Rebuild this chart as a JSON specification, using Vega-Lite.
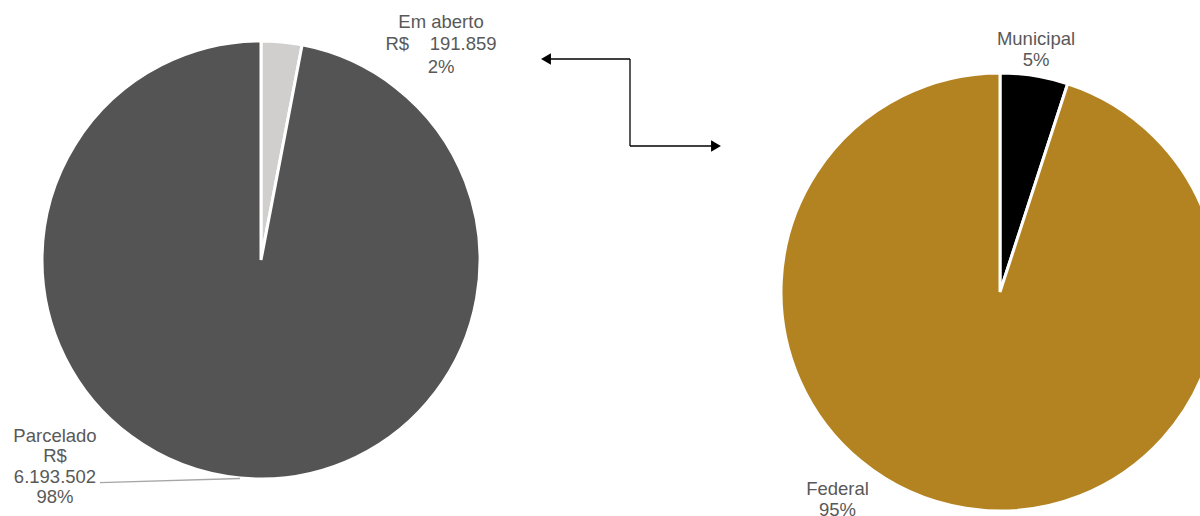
{
  "$schema": "https://vega.github.io/schema/vega-lite/v6.json",
  "width": 1200,
  "height": 516,
  "autosize": {"type": "none"},
  "padding": 0,
  "config": {"view": {"stroke": null}, "font": "Liberation Sans"},
  "data": {
    "values": [
      {"chart": "Parcelamento", "category": "Em aberto", "value": 191859, "label": ["Em aberto", "R$\u00a0\u00a0\u00a0\u00a0191.859", "2%"]},
      {"chart": "Parcelamento", "category": "Parcelado", "value": 6193502, "label": ["Parcelado", "R$", "6.193.502", "98%"]},
      {"chart": "Esfera", "category": "Municipal", "value": 5, "label": ["Municipal", "5%"]},
      {"chart": "Esfera", "category": "Federal", "value": 95, "label": ["Federal", "95%"]}
    ]
  },
  "transform": [
    {"stack": "value", "groupby": ["chart"], "sort": [{"field": "value", "order": "ascending"}], "offset": "normalize", "as": ["t0", "t1"]}
  ],
  "resolve": {"scale": {"x": "independent", "y": "independent"}},
  "layer": [
    {
      "mark": {"type": "arc", "radius": 219, "stroke": "white", "strokeWidth": 3},
      "encoding": {
        "x": {"field": "chart", "type": "nominal", "scale": {"type": "point", "padding": 0, "domain": ["Parcelamento", "Esfera"], "range": [261, 1000]}, "axis": null},
        "y": {"field": "chart", "type": "nominal", "scale": {"type": "point", "padding": 0, "domain": ["Parcelamento", "Esfera"], "range": [260, 292]}, "axis": null},
        "theta": {"field": "t0", "type": "quantitative", "scale": {"domain": [0, 1], "range": [0, 6.283185307]}},
        "theta2": {"field": "t1"},
        "color": {"field": "category", "type": "nominal", "scale": {"domain": ["Em aberto", "Parcelado", "Municipal", "Federal"], "range": ["#d0cfce", "#545454", "#000000", "#b38321"]}, "legend": null}
      }
    },
    {
      "transform": [{"filter": "datum.category === 'Em aberto'"}],
      "mark": {"type": "text", "fontSize": 18.5, "color": "#595959", "align": "center", "baseline": "alphabetic", "lineHeight": 22.7, "dx": 180, "dy": -232.5},
      "encoding": {
        "x": {"field": "chart", "type": "nominal", "scale": {"type": "point", "padding": 0, "domain": ["Parcelamento", "Esfera"], "range": [261, 1000]}, "axis": null},
        "y": {"field": "chart", "type": "nominal", "scale": {"type": "point", "padding": 0, "domain": ["Parcelamento", "Esfera"], "range": [260, 292]}, "axis": null},
        "text": {"field": "label"}
      }
    },
    {
      "transform": [{"filter": "datum.category === 'Parcelado'"}],
      "mark": {"type": "text", "fontSize": 18.5, "color": "#595959", "align": "center", "baseline": "alphabetic", "lineHeight": 20.5, "dx": -206, "dy": 181.7},
      "encoding": {
        "x": {"field": "chart", "type": "nominal", "scale": {"type": "point", "padding": 0, "domain": ["Parcelamento", "Esfera"], "range": [261, 1000]}, "axis": null},
        "y": {"field": "chart", "type": "nominal", "scale": {"type": "point", "padding": 0, "domain": ["Parcelamento", "Esfera"], "range": [260, 292]}, "axis": null},
        "text": {"field": "label"}
      }
    },
    {
      "transform": [{"filter": "datum.category === 'Municipal'"}],
      "mark": {"type": "text", "fontSize": 18.5, "color": "#595959", "align": "center", "baseline": "alphabetic", "lineHeight": 21, "dx": 36, "dy": -247},
      "encoding": {
        "x": {"field": "chart", "type": "nominal", "scale": {"type": "point", "padding": 0, "domain": ["Parcelamento", "Esfera"], "range": [261, 1000]}, "axis": null},
        "y": {"field": "chart", "type": "nominal", "scale": {"type": "point", "padding": 0, "domain": ["Parcelamento", "Esfera"], "range": [260, 292]}, "axis": null},
        "text": {"field": "label"}
      }
    },
    {
      "transform": [{"filter": "datum.category === 'Federal'"}],
      "mark": {"type": "text", "fontSize": 18.5, "color": "#595959", "align": "center", "baseline": "alphabetic", "lineHeight": 21, "dx": -162.5, "dy": 203},
      "encoding": {
        "x": {"field": "chart", "type": "nominal", "scale": {"type": "point", "padding": 0, "domain": ["Parcelamento", "Esfera"], "range": [261, 1000]}, "axis": null},
        "y": {"field": "chart", "type": "nominal", "scale": {"type": "point", "padding": 0, "domain": ["Parcelamento", "Esfera"], "range": [260, 292]}, "axis": null},
        "text": {"field": "label"}
      }
    },
    {
      "data": {"values": [{}]},
      "transform": [],
      "layer": [
        {
          "mark": {"type": "rule", "color": "#a6a6a6", "strokeWidth": 1.3},
          "encoding": {
            "x": {"datum": 100, "type": "quantitative", "scale": {"domain": [0, 1200]}, "axis": null},
            "x2": {"datum": 240},
            "y": {"datum": 482.7, "type": "quantitative", "scale": {"domain": [0, 516], "reverse": true}, "axis": null},
            "y2": {"datum": 478.5}
          }
        },
        {
          "mark": {"type": "rule", "color": "#000000", "strokeWidth": 1.3},
          "encoding": {
            "x": {"datum": 546, "type": "quantitative", "scale": {"domain": [0, 1200]}, "axis": null},
            "x2": {"datum": 630},
            "y": {"datum": 59, "type": "quantitative", "scale": {"domain": [0, 516], "reverse": true}, "axis": null},
            "y2": {"datum": 59}
          }
        },
        {
          "mark": {"type": "rule", "color": "#000000", "strokeWidth": 1.3},
          "encoding": {
            "x": {"datum": 630, "type": "quantitative", "scale": {"domain": [0, 1200]}, "axis": null},
            "x2": {"datum": 630},
            "y": {"datum": 59, "type": "quantitative", "scale": {"domain": [0, 516], "reverse": true}, "axis": null},
            "y2": {"datum": 146}
          }
        },
        {
          "mark": {"type": "rule", "color": "#000000", "strokeWidth": 1.3},
          "encoding": {
            "x": {"datum": 630, "type": "quantitative", "scale": {"domain": [0, 1200]}, "axis": null},
            "x2": {"datum": 716},
            "y": {"datum": 146, "type": "quantitative", "scale": {"domain": [0, 516], "reverse": true}, "axis": null},
            "y2": {"datum": 146}
          }
        },
        {
          "mark": {"type": "point", "shape": "triangle-left", "filled": true, "color": "#000000", "size": 130, "opacity": 1},
          "encoding": {
            "x": {"datum": 546, "type": "quantitative", "scale": {"domain": [0, 1200]}, "axis": null},
            "y": {"datum": 59, "type": "quantitative", "scale": {"domain": [0, 516], "reverse": true}, "axis": null}
          }
        },
        {
          "mark": {"type": "point", "shape": "triangle-right", "filled": true, "color": "#000000", "size": 130, "opacity": 1},
          "encoding": {
            "x": {"datum": 716, "type": "quantitative", "scale": {"domain": [0, 1200]}, "axis": null},
            "y": {"datum": 146, "type": "quantitative", "scale": {"domain": [0, 516], "reverse": true}, "axis": null}
          }
        }
      ]
    }
  ]
}
